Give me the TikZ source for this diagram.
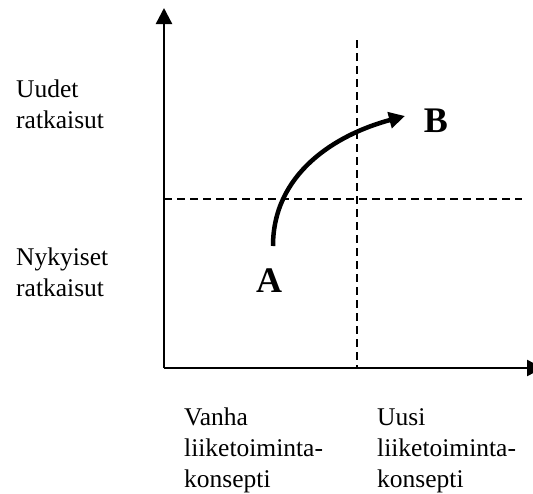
\documentclass[tikz,border=0pt]{standalone}
\usepackage{fontspec}
\setmainfont{Liberation Serif}
\usetikzlibrary{arrows.meta}

\begin{document}
\begin{tikzpicture}[
x=1pt, y=-1pt,
every node/.style={
    inner sep=0pt,
    align=left,
    anchor=base west,
    font=\fontsize{25.5}{31}\selectfont
},
letter/.style={
    anchor=base,
    font=\fontsize{36}{36}\selectfont\bfseries
},
axis/.style={line width=2.4pt},
grid/.style={line width=1.4pt, dash pattern=on 8pt off 5pt},
>={Triangle[length=16pt,width=16pt]}
]
\useasboundingbox (0,0) rectangle (533,493);
\clip (0,0) rectangle (533,493);

\coordinate (origin) at (164,368);
\coordinate (ytop) at (164,8);
\coordinate (xend) at (543,368);
\coordinate (vtop) at (357,40);
\coordinate (vbot) at (357,368);
\coordinate (hleft) at (164,199);
\coordinate (hright) at (522,199);
\coordinate (start) at (273,246);
\coordinate (goal) at (405,116);

\draw[axis,->] (origin)--(ytop);
\draw[axis,->] (origin)--(xend);
\draw[grid] (vtop)--(vbot);
\draw[grid] (hleft)--(hright);
\draw[line width=4.5pt,->] (start) to[out=90,in=195] (goal);

\node[letter] (A) at (269,292) {A};
\node[letter] (B) at (436,132) {B};

% base anchor sits on the last line
\node (new) at (16,128) {Uudet\\ratkaisut};
\node (cur) at (16,296) {Nykyiset\\ratkaisut};

\node (old) at (184,487) {Vanha\\liiketoiminta-\\konsepti};
\node (next) at (377,487) {Uusi\\liiketoiminta-\\konsepti};

\end{tikzpicture}
\end{document}
